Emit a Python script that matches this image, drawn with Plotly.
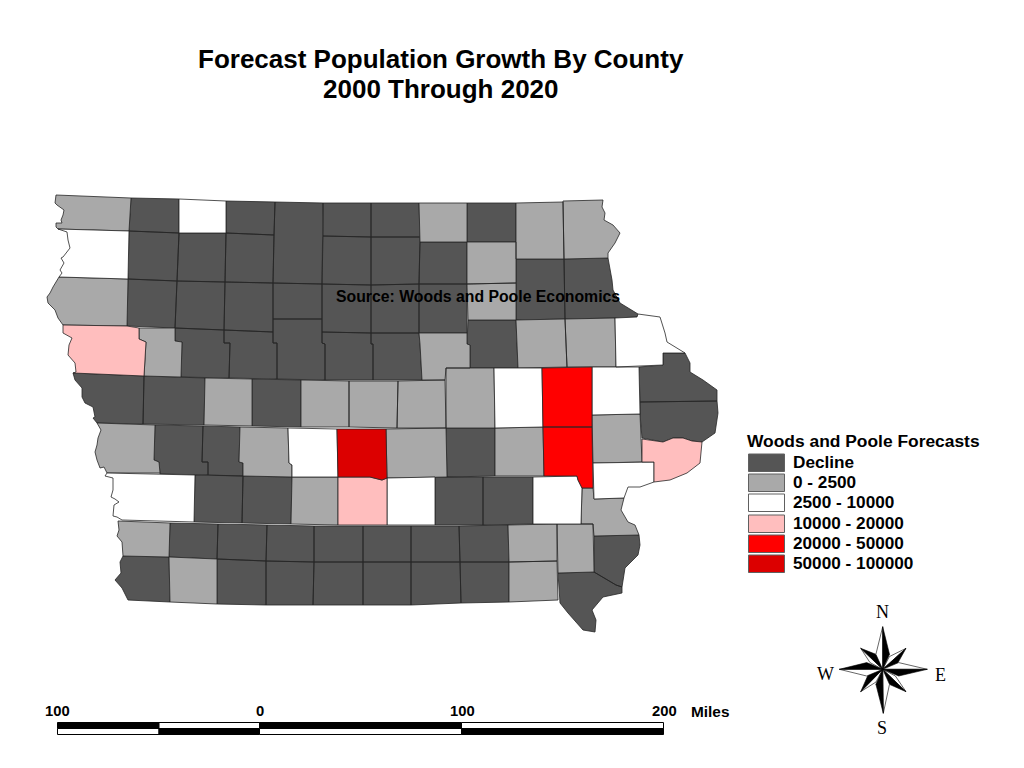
import plotly.graph_objects as go

TITLE_LINES = ["Forecast Population Growth By County", "2000 Through 2020"]
SOURCE_NOTE = "Source: Woods and Poole Economics"
LEGEND_TITLE = "Woods and Poole Forecasts"
CLASS_LABELS = ["Decline", "0 - 2500", "2500 - 10000", "10000 - 20000", "20000 - 50000", "50000 - 100000"]
CLASS_COLORS = ["#555555", "#a9a9a9", "#ffffff", "#ffbebe", "#ff0000", "#dc0000"]
SCALE_LABELS = ["100", "0", "100", "200"]

# County outlines (x, y in image pixels), with forecast class index
DECLINE, LOW, MID, HIGH, VHIGH, TOP = range(6)
COUNTIES = [
 ("Lyon", LOW, [(56,195),(131,198),(129,231),(58,229),(56,227),(56,223),(62,223),(61,220),(63,215),(64,210),(57,205),(55,203)]),
 ("Osceola", DECLINE, [(131,198),(179,199),(179,233),(129,231)]),
 ("Dickinson", MID, [(179,199),(226,201),(226,233),(179,233)]),
 ("Emmet", DECLINE, [(226,201),(275,202),(274,235),(226,233)]),
 ("Kossuth", DECLINE, [(275,202),(323,203),(322,284),(273,283),(274,235)]),
 ("Winnebago", DECLINE, [(323,203),(371,203),(371,237),(323,236)]),
 ("Worth", DECLINE, [(371,203),(419,203),(420,237),(371,237)]),
 ("Mitchell", LOW, [(419,203),(467,203),(467,242),(420,242)]),
 ("Howard", DECLINE, [(467,203),(516,203),(516,242),(467,242)]),
 ("Winneshiek", LOW, [(516,203),(563,202),(564,259),(516,259)]),
 ("Allamakee", LOW, [(563,201),(603,200),(602,207),(605,213),(604,220),(613,225),(620,233),(615,243),(608,253),(608,258),(564,259)]),
 ("Sioux", MID, [(58,229),(129,231),(128,279),(59,277),(62,273),(60,270),(64,263),(61,258),(63,257),(70,248),(68,240),(67,232)]),
 ("OBrien", DECLINE, [(129,231),(179,233),(177,281),(128,279)]),
 ("Clay", DECLINE, [(179,233),(226,233),(225,282),(177,281)]),
 ("PaloAlto", DECLINE, [(226,233),(274,235),(273,283),(225,282)]),
 ("Hancock", DECLINE, [(323,236),(371,237),(371,285),(322,284)]),
 ("CerroGordo", DECLINE, [(371,237),(420,237),(419,284),(371,285)]),
 ("Floyd", DECLINE, [(420,242),(467,242),(467,284),(419,284)]),
 ("Chickasaw", LOW, [(467,242),(516,242),(516,283),(467,284)]),
 ("Fayette", DECLINE, [(516,259),(564,259),(565,319),(516,320)]),
 ("Clayton", DECLINE, [(564,259),(608,258),(612,280),(613,290),(620,303),(628,308),(638,314),(637,317),(615,318),(565,319)]),
 ("Plymouth", LOW, [(59,277),(128,279),(127,326),(63,325),(58,318),(55,310),(48,303),(47,297),(50,293),(53,287)]),
 ("Cherokee", DECLINE, [(128,279),(177,281),(175,328),(127,326)]),
 ("BuenaVista", DECLINE, [(177,281),(225,282),(224,330),(175,328)]),
 ("Pocahontas", DECLINE, [(225,282),(273,283),(273,332),(224,330)]),
 ("Humboldt", DECLINE, [(273,283),(322,284),(322,319),(273,319)]),
 ("Wright", DECLINE, [(322,284),(371,285),(371,333),(322,332)]),
 ("Franklin", DECLINE, [(371,285),(419,284),(419,333),(371,333)]),
 ("Butler", DECLINE, [(419,284),(467,284),(467,333),(419,333)]),
 ("Bremer", LOW, [(467,284),(516,283),(516,320),(468,320)]),
 ("BlackHawk", DECLINE, [(468,320),(516,320),(518,368),(470,368),(470,345),(467,344)]),
 ("Buchanan", LOW, [(516,320),(565,319),(567,367),(518,368)]),
 ("Delaware", LOW, [(565,319),(615,318),(616,367),(567,367)]),
 ("Dubuque", MID, [(615,318),(637,317),(638,314),(660,317),(665,333),(667,342),(685,353),(663,353),(663,365),(616,367)]),
 ("Jackson", DECLINE, [(663,353),(685,353),(690,363),(690,372),(703,380),(717,390),(717,401),(640,402),(639,367),(663,365)]),
 ("Clinton", DECLINE, [(640,402),(717,401),(718,413),(715,433),(702,442),(692,441),(683,438),(673,438),(663,442),(642,438),(640,414)]),
 ("Scott", HIGH, [(642,439),(663,442),(673,438),(683,438),(692,441),(702,442),(700,463),(687,473),(670,480),(654,482),(654,462),(642,462)]),
 ("Muscatine", MID, [(593,463),(654,462),(654,482),(640,487),(628,487),(624,498),(594,499)]),
 ("Cedar", LOW, [(592,415),(640,414),(642,462),(593,463)]),
 ("Jones", MID, [(592,367),(639,367),(640,414),(592,415)]),
 ("Linn", VHIGH, [(542,368),(592,367),(592,427),(543,427)]),
 ("Johnson", VHIGH, [(543,427),(592,427),(593,488),(582,488),(578,480),(577,476),(544,476)]),
 ("Benton", MID, [(494,368),(542,368),(543,427),(495,428)]),
 ("Tama", LOW, [(446,368),(494,368),(495,428),(446,428)]),
 ("Grundy", LOW, [(419,333),(467,333),(467,344),(470,345),(470,368),(446,368),(445,380),(422,380),(420,344)]),
 ("Hardin", DECLINE, [(371,333),(419,333),(420,344),(422,380),(373,380),(373,344),(371,344)]),
 ("Hamilton", DECLINE, [(322,332),(371,333),(371,344),(373,344),(373,380),(325,380),(325,344),(322,343)]),
 ("Webster", DECLINE, [(273,319),(322,319),(322,343),(325,344),(325,380),(277,379),(277,343),(273,343)]),
 ("Calhoun", DECLINE, [(224,330),(273,332),(273,343),(277,343),(277,379),(229,378),(230,343),(224,343)]),
 ("Sac", DECLINE, [(175,328),(224,330),(224,343),(230,343),(229,378),(181,377),(182,342),(175,341)]),
 ("Ida", LOW, [(139,328),(175,328),(175,341),(182,342),(181,377),(144,376),(146,342),(139,339)]),
 ("Woodbury", HIGH, [(63,325),(127,326),(139,328),(139,339),(146,342),(144,376),(73,373),(76,372),(75,363),(68,355),(69,345),(72,338),(63,333)]),
 ("Monona", DECLINE, [(73,373),(144,376),(143,424),(97,423),(93,418),(95,417),(93,407),(85,403),(82,397),(82,388),(75,380)]),
 ("Crawford", DECLINE, [(144,376),(205,378),(204,425),(143,424)]),
 ("Carroll", LOW, [(205,378),(252,379),(252,426),(204,425)]),
 ("Greene", DECLINE, [(252,379),(301,380),(301,427),(252,426)]),
 ("Boone", LOW, [(301,380),(349,381),(349,427),(301,427)]),
 ("Story", LOW, [(349,381),(398,381),(397,428),(349,427)]),
 ("Marshall", LOW, [(398,381),(445,380),(446,428),(397,428)]),
 ("Harrison", LOW, [(97,423),(155,425),(154,460),(159,462),(160,473),(107,473),(104,467),(100,468),(97,460),(95,452),(97,445),(98,438),(101,430)]),
 ("Shelby", DECLINE, [(155,425),(203,426),(202,462),(208,462),(208,475),(160,474),(159,462),(154,460)]),
 ("Audubon", DECLINE, [(203,426),(240,427),(239,462),(243,463),(243,476),(208,475),(208,462),(202,462)]),
 ("Guthrie", LOW, [(240,427),(288,428),(289,463),(292,465),(292,477),(243,476),(243,463),(239,462)]),
 ("Dallas", MID, [(288,428),(337,429),(338,477),(292,477),(292,465),(289,463)]),
 ("Polk", TOP, [(337,429),(386,429),(387,478),(382,480),(370,477),(338,477)]),
 ("Jasper", LOW, [(386,429),(446,428),(447,477),(387,478)]),
 ("Poweshiek", DECLINE, [(446,428),(495,428),(495,476),(447,477)]),
 ("Iowa", LOW, [(495,428),(543,427),(544,476),(495,476)]),
 ("Pottawattamie", MID, [(107,473),(195,475),(194,522),(122,520),(117,517),(113,516),(114,505),(119,502),(115,499),(111,497),(113,490),(113,478),(105,476)]),
 ("Cass", DECLINE, [(195,475),(243,476),(242,523),(194,522)]),
 ("Adair", DECLINE, [(243,476),(292,477),(291,524),(242,523)]),
 ("Madison", LOW, [(292,477),(338,477),(338,525),(291,524)]),
 ("Warren", HIGH, [(338,477),(370,477),(382,480),(387,478),(387,525),(338,525)]),
 ("Marion", MID, [(387,478),(435,477),(435,525),(387,525)]),
 ("Mahaska", DECLINE, [(435,477),(483,477),(483,525),(435,525)]),
 ("Keokuk", DECLINE, [(483,477),(533,477),(533,524),(483,525)]),
 ("Washington", MID, [(533,477),(577,476),(578,480),(582,488),(581,524),(533,524)]),
 ("Louisa", LOW, [(582,488),(593,488),(594,499),(624,498),(621,510),(628,522),(635,525),(639,535),(594,536),(593,524),(581,524)]),
 ("Mills", LOW, [(118,521),(170,523),(169,557),(123,556),(122,542),(117,536),(119,530)]),
 ("Montgomery", DECLINE, [(170,523),(218,524),(217,559),(169,557)]),
 ("Adams", DECLINE, [(218,524),(267,525),(266,561),(217,559)]),
 ("Union", DECLINE, [(267,525),(314,526),(314,562),(266,561)]),
 ("Clarke", DECLINE, [(314,526),(363,526),(363,562),(314,562)]),
 ("Lucas", DECLINE, [(363,526),(411,526),(411,562),(363,562)]),
 ("Monroe", DECLINE, [(411,526),(459,526),(460,562),(411,562)]),
 ("Wapello", DECLINE, [(459,526),(508,525),(509,562),(460,562)]),
 ("Jefferson", LOW, [(508,525),(557,524),(557,561),(509,562)]),
 ("Henry", LOW, [(557,524),(593,524),(594,572),(558,573)]),
 ("DesMoines", DECLINE, [(594,536),(639,535),(640,545),(638,555),(625,568),(622,587),(616,585),(594,572)]),
 ("Lee", DECLINE, [(558,573),(594,572),(616,585),(622,587),(622,593),(603,597),(592,610),(596,620),(595,632),(583,630),(568,613),(560,603)]),
 ("VanBuren", LOW, [(509,562),(557,561),(558,600),(509,602)]),
 ("Davis", DECLINE, [(460,562),(509,562),(509,602),(461,603)]),
 ("Appanoose", DECLINE, [(411,562),(460,562),(461,603),(411,605)]),
 ("Wayne", DECLINE, [(363,562),(411,562),(411,605),(363,605)]),
 ("Decatur", DECLINE, [(314,562),(363,562),(363,605),(313,605)]),
 ("Ringgold", DECLINE, [(266,561),(314,562),(313,605),(266,605)]),
 ("Taylor", DECLINE, [(217,559),(266,561),(266,605),(217,604)]),
 ("Page", LOW, [(169,557),(217,559),(217,604),(170,602)]),
 ("Fremont", DECLINE, [(123,556),(169,557),(170,602),(128,600),(122,588),(115,580),(121,573),(120,562)]),
]

FONT = "Liberation Sans"
INK = "#000000"
fig = go.Figure()

# counties, one trace per class
for i, (label, color) in enumerate(zip(CLASS_LABELS, CLASS_COLORS)):
    xs, ys = [], []
    for name, cls, outline in COUNTIES:
        if cls == i:
            xs += [p[0] for p in outline] + [outline[0][0], None]
            ys += [p[1] for p in outline] + [outline[0][1], None]
    fig.add_trace(go.Scatter(x=xs, y=ys, mode="lines", fill="toself", fillcolor=color,
                             line=dict(color="#262626", width=0.8), name=label,
                             hoverinfo="skip", showlegend=False))

shapes, notes = [], []

def note(x, y, text, size, bold=True, anchor="left", family=FONT):
    notes.append(dict(x=x, y=y, xref="x", yref="y", text=f"<b>{text}</b>" if bold else text,
                      showarrow=False, xanchor=anchor, yanchor="middle",
                      font=dict(family=family, size=size, color=INK)))

# title
note(441, 59, TITLE_LINES[0], 26, anchor="center")
note(441, 89, TITLE_LINES[1], 26, anchor="center")

# source note
note(334, 296, SOURCE_NOTE, 15.8)

# legend
note(745, 441, LEGEND_TITLE, 17.4)
SWATCH_TOPS = [454, 474, 494, 515, 535, 555]
for top, label, color in zip(SWATCH_TOPS, CLASS_LABELS, CLASS_COLORS):
    shapes.append(dict(type="rect", x0=748.5, x1=784.5, y0=top, y1=top + 17.5, xref="x", yref="y",
                       fillcolor=color, line=dict(color="#606060", width=1)))
    note(791, top + 7.5, label, 17.2)

# scale bar
SCALE_STOPS = [57.5, 159, 259.5, 461.5, 663.5]
for k in range(4):
    top_color, low_color = ("#000000", "#ffffff") if k % 2 == 0 else ("#ffffff", "#000000")
    shapes.append(dict(type="rect", x0=SCALE_STOPS[k], x1=SCALE_STOPS[k + 1], y0=722.5, y1=728.5,
                       xref="x", yref="y", fillcolor=top_color, line=dict(color=INK, width=1)))
    shapes.append(dict(type="rect", x0=SCALE_STOPS[k], x1=SCALE_STOPS[k + 1], y0=728.5, y1=734.5,
                       xref="x", yref="y", fillcolor=low_color, line=dict(color=INK, width=1)))
for x, label in zip([57, 260, 462, 664], SCALE_LABELS):
    note(x, 711, label, 14.8, anchor="center")
note(688.5, 711, "Miles", 15.4)

# compass rose: offsets from its centre of each point's tip, black shoulder and white shoulder
ROSE_CENTRE = (882.7, 669.3)
ROSE_POINTS = [
 ((23.3, -21), (14, -4.3), (6.7, -12.7)),
 ((23.3, 22.4), (4.3, 14), (12.7, 6.7)),
 ((-22, 22.4), (-14, 4.3), (-6.7, 12.7)),
 ((-22, -21), (-4.3, -14), (-12.7, -6.7)),
 ((0, -42.6), (6.8, -15), (-6.8, -15)),
 ((44.6, 0), (16, 6.7), (16, -6.7)),
 ((0.6, 44), (-6.8, 15), (6.8, 15)),
 ((-43.4, 0), (-16, -6.7), (-16, 6.7)),
]
cx, cy = ROSE_CENTRE
for tip, black_side, white_side in ROSE_POINTS:
    for side, color in ((white_side, "#ffffff"), (black_side, "#000000")):
        fig.add_trace(go.Scatter(
            x=[cx, cx + tip[0], cx + side[0], cx],
            y=[cy, cy + tip[1], cy + side[1], cy],
            mode="lines", fill="toself", fillcolor=color, line=dict(color=INK, width=0.6),
            hoverinfo="skip", showlegend=False))
for x, y, letter in [(882, 612, "N"), (825, 674, "W"), (940, 675, "E"), (882, 728, "S")]:
    note(x, y, letter, 18, bold=False, anchor="center", family="Liberation Serif")

fig.update_layout(
    width=1024, height=768, autosize=False, margin=dict(l=0, r=0, t=0, b=0),
    paper_bgcolor="#ffffff", plot_bgcolor="#ffffff", showlegend=False,
    xaxis=dict(range=[0, 1024], visible=False, fixedrange=True),
    yaxis=dict(range=[768, 0], visible=False, fixedrange=True),
    shapes=shapes, annotations=notes,
)
fig.write_html("out.html", config=dict(displayModeBar=False),
               post_script="document.body.style.margin='0';document.body.style.overflow='hidden';")
